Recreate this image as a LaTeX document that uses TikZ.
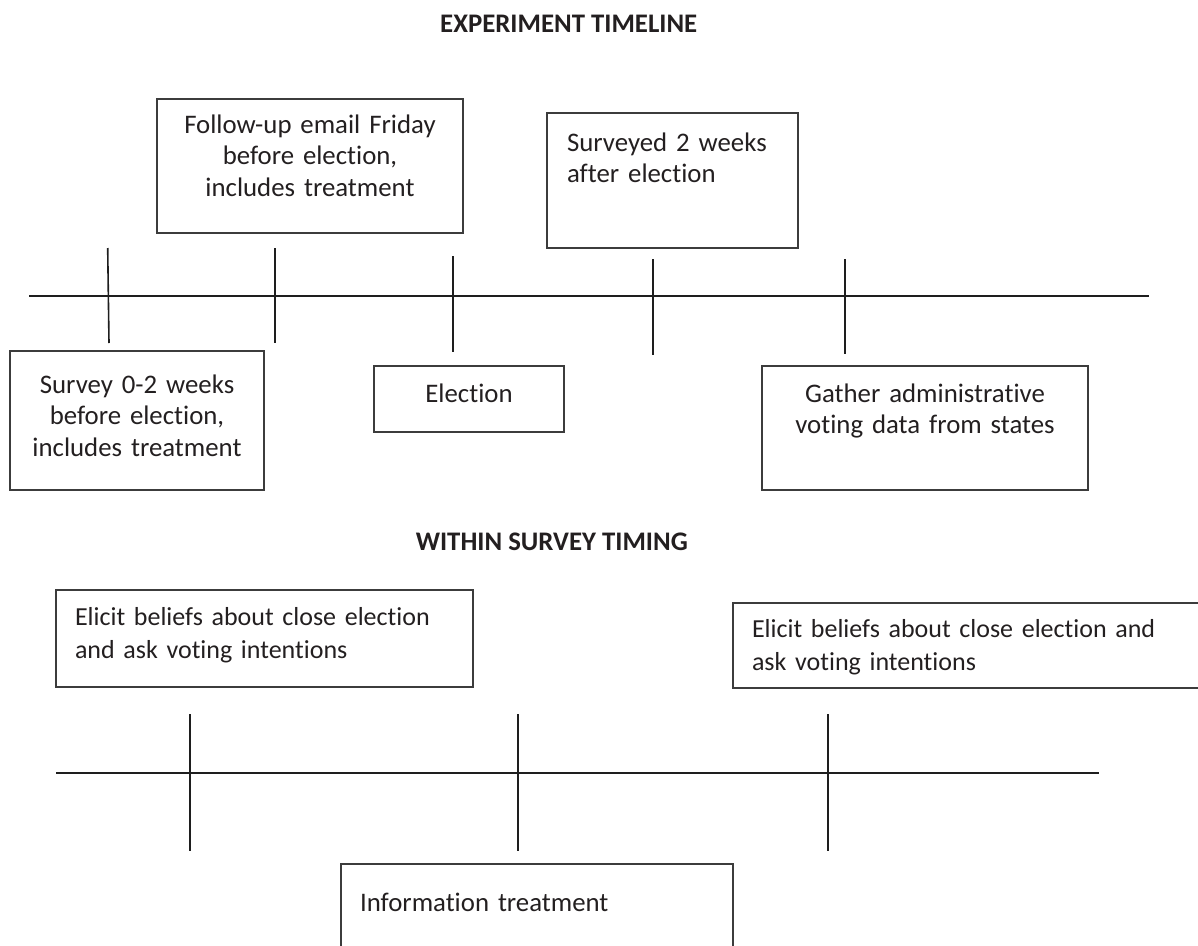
\documentclass[tikz,border=0pt]{standalone}
\usepackage{fontspec}
\setmainfont{Carlito}[Ligatures=NoCommon]
\definecolor{inkgray}{HTML}{231F20}
\definecolor{rulegray}{HTML}{1E1E1E}
\definecolor{framegray}{HTML}{3C3C3C}

\begin{document}
\begin{tikzpicture}[
    x=1pt, y=-1pt,
    heading/.style={font=\fontsize{26.8}{32}\selectfont\bfseries, text=inkgray, inner sep=0pt},
    tbox/.style={draw=framegray, line width=1.3pt, text=inkgray, inner ysep=0pt, inner xsep=10pt,
                 anchor=base, font=\fontsize{26.8}{31.5}\selectfont},
    sbox/.style={tbox, font=\fontsize{26}{33}\selectfont, align=left, inner xsep=19pt},
    axis/.style={draw=rulegray, line width=1.7pt},
    tick/.style={draw=rulegray, line width=1.6pt},
    heavytick/.style={draw=rulegray, line width=2.3pt}
  ]
    \useasboundingbox (0,0) rectangle (1198,945);
    \clip (0,0) rectangle (1198,945);

    % experiment timeline
    \node[heading, anchor=base west] (head1) at (440,32) {EXPERIMENT TIMELINE};

    \node[tbox, align=center, text width=286pt, text height=34pt, text depth=100pt] (follow) at (310,133)
      {Follow-up email Friday\\before election,\\includes treatment};
    \node[tbox, align=left, inner xsep=20pt, text width=211pt, text height=38pt, text depth=97pt] (after) at (672.5,151)
      {Surveyed 2 weeks\\after election};
    \node[tbox, align=center, text width=234pt, text height=42pt, text depth=97pt] (survey) at (137,393)
      {Survey 0-2 weeks\\before election,\\includes treatment};
    \node[tbox, align=center, text width=170pt, text height=36pt, text depth=30pt] (election) at (469,402)
      {Election};
    \node[tbox, align=center, text width=306pt, text height=36pt, text depth=88pt] (gather) at (925,402)
      {Gather administrative\\voting data from states};

    \draw[axis] (29,296) -- (1149,296);
    \draw[tick] (107.7,248) -- (109,343);
    \draw[tick] (275,248) -- (275,343);
    \foreach \tx/\ta/\tb in {453/256/352, 653/259/355}
      \draw[heavytick] (\tx,\ta) -- (\tx,\tb);
    \draw[tick] (845,259) -- (845,354);

    % within survey timing
    \node[heading, anchor=base east] (head2) at (688,550) {WITHIN SURVEY TIMING};

    \node[sbox, text width=379pt, text height=35pt, text depth=62pt] (beliefsA) at (264.5,625)
      {Elicit beliefs about close election\\and ask voting intentions};
    \node[sbox, text width=444pt, text height=34pt, text depth=51pt] (beliefsB) at (974,637)
      {Elicit beliefs about close election and\\ask voting intentions};
    \node[tbox, align=left, inner xsep=19pt, text width=354pt, text height=47pt, text depth=54pt] (info) at (537,911)
      {Information treatment};

    \draw[axis] (56,773) -- (1099,773);
    \foreach \tx in {190,518}
      \draw[tick] (\tx,714) -- (\tx,851);
    \draw[heavytick] (828,714) -- (828,851);
\end{tikzpicture}
\end{document}
